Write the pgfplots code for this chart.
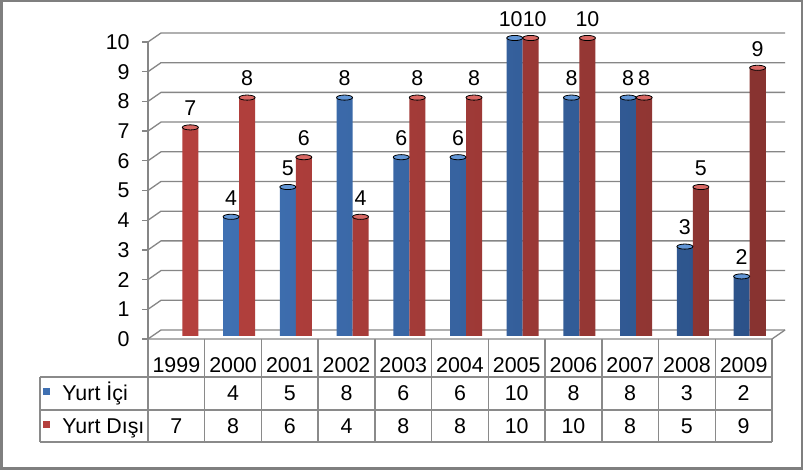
\documentclass[border=0pt]{standalone}
\usepackage{fontspec}
\setmainfont{Liberation Sans}
\usepackage{pgfplots}
\pgfplotsset{compat=1.18}
\usepackage{pgfplotstable}

\definecolor{gridc}{HTML}{868686}
\definecolor{tabc}{HTML}{8A8A8A}
\definecolor{bordc}{HTML}{7F7F7F}
\definecolor{bL}{HTML}{3F70B2}
\definecolor{bM}{HTML}{5488C8}
\definecolor{bR}{HTML}{2C5289}
\definecolor{bTop}{HTML}{6296D6}
\definecolor{rL}{HTML}{B5403D}
\definecolor{rM}{HTML}{CC5552}
\definecolor{rR}{HTML}{873330}
\definecolor{rTop}{HTML}{D86864}

\newcommand\chfont{\fontsize{10.7pt}{12.8pt}\selectfont}

\pgfplotstableread{
x ic id
0 nan 7
1 4 8
2 5 6
3 8 4
4 6 8
5 6 8
6 10 10
7 8 10
8 8 8
9 3 5
10 2 9
}\data

\begin{document}
\chfont
\begin{tikzpicture}[x=0.5pt,y=0.5pt]
\fill[white] (0,0) rectangle (803,470);
% back wall grid and side diagonals
\foreach \v in {0,...,10} {
  \pgfmathsetmacro\yb{470-(330-29.7*\v)}
  \pgfmathsetmacro\yf{470-(339-29.7*\v)}
  \draw[gridc, line width=0.65pt] (148,\yf) -- (161,\yb) -- (785,\yb);
}
% floor front and right edge
\draw[gridc, line width=0.65pt] (148,131) -- (772,131) -- (785,140);

% front y axis
\begin{axis}[at={(74pt,65.5pt)}, anchor=south west, scale only axis,
  width=312pt, height=148.5pt,
  xmin=-0.5, xmax=10.5, ymin=0, ymax=10,
  axis x line=none, axis y line*=left,
  ytick={0,...,10}, xtick=\empty,
  tick align=outside, major tick length=3pt,
  axis line style={gridc, line width=0.65pt},
  every tick/.style={gridc, line width=0.65pt},
  yticklabel style={font=\chfont, inner sep=0pt, xshift=-6pt},
  /pgf/number format/assume math mode=true]
\end{axis}

% bars
\begin{axis}[at={(74pt,67pt)}, anchor=south west, scale only axis,
  width=312pt, height=149pt,
  xmin=-0.5, xmax=10.5, ymin=0, ymax=10,
  hide axis, clip=false]
\addplot[ybar, bar width=8pt, bar shift=-1pt, draw=none,
  left color=bL, middle color=bM, right color=bR,
  visualization depends on={\thisrow{x} \as \xv},
  nodes near coords,
  nodes near coords style={anchor=south, inner sep=0pt, yshift=5.5pt,
    xshift={-1pt-2pt*(\xv==6)}, text=black, font=\chfont},
  /pgf/number format/assume math mode=true]
  table[x=x, y=ic]{\data};
\addplot[ybar, bar width=8pt, bar shift=7pt, draw=none,
  left color=rL, middle color=rM, right color=rR,
  visualization depends on={\thisrow{x} \as \xv},
  nodes near coords,
  nodes near coords style={anchor=south, inner sep=0pt, yshift=5.5pt,
    xshift={7pt+2pt*(\xv==6)}, text=black, font=\chfont},
  /pgf/number format/assume math mode=true]
  table[x=x, y=id]{\data};
\addplot[only marks, mark=*, mark size=4pt,
  mark options={yscale=0.32, draw=none, fill=bTop}]
  table[x expr=\thisrow{x}-0.03526, y=ic]{\data};
\addplot[only marks, mark=*, mark size=4pt,
  mark options={yscale=0.32, draw=none, fill=rTop}]
  table[x expr=\thisrow{x}+0.2468, y=id]{\data};
\end{axis}

% data table
\foreach \k in {0,...,11} {
  \pgfmathsetmacro\xk{148+56.727*\k}
  \draw[tabc, line width=0.7pt] (\xk,131) -- (\xk,28);
}
\draw[tabc, line width=0.7pt] (40,93) -- (40,28);
\foreach \yy in {93,60,28} {
  \draw[tabc, line width=0.7pt] (40,\yy) -- (772,\yy);
}
\foreach \yr [count=\i from 0] in {1999,2000,2001,2002,2003,2004,2005,2006,2007,2008,2009} {
  \pgfmathsetmacro\xc{148+56.727*(\i+0.5)}
  \node[anchor=base, inner sep=0pt] at (\xc,97) {\yr};
}
\foreach \val [count=\i from 0] in {,4,5,8,6,6,10,8,8,3,2} {
  \pgfmathsetmacro\xc{148+56.727*(\i+0.5)}
  \node[anchor=base, inner sep=0pt] at (\xc,69) {\val};
}
\foreach \val [count=\i from 0] in {7,8,6,4,8,8,10,10,8,5,9} {
  \pgfmathsetmacro\xc{148+56.727*(\i+0.5)}
  \node[anchor=base, inner sep=0pt] at (\xc,36) {\val};
}
\fill[bL] (43,75) rectangle (50,82);
\fill[rL] (43,42) rectangle (50,49);
\node[anchor=base west, inner sep=0pt] at (62,69) {Yurt İçi};
\node[anchor=base west, inner sep=0pt] at (62,36) {Yurt Dışı};

% outer border
\draw[bordc, line width=1.25pt] (1.25,1.25) rectangle (801.75,468.75);
\pgfresetboundingbox
\path (0,0) rectangle (803,470);
\end{tikzpicture}
\end{document}
